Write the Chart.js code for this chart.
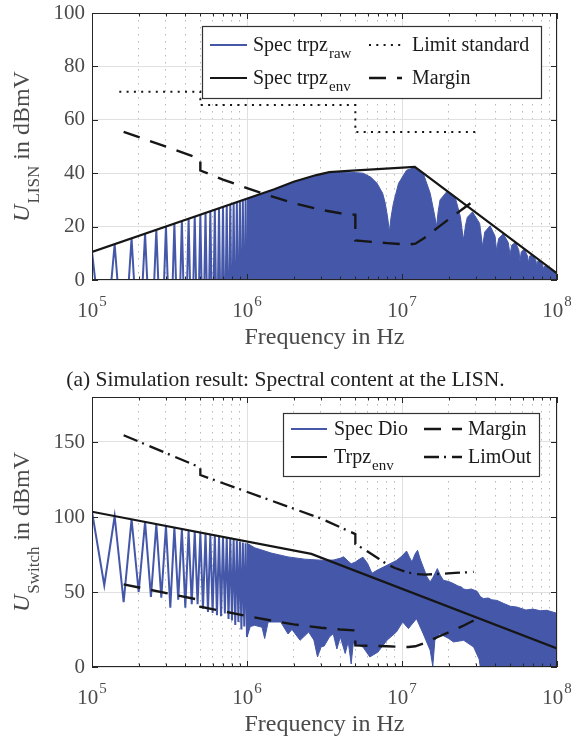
<!DOCTYPE html>
<html>
<head>
<meta charset="utf-8">
<title>Spectral content at the LISN</title>
<script src="https://cdn.jsdelivr.net/npm/chart.js@4.4.1/dist/chart.umd.min.js"></script>
<style>
  body { margin: 0; width: 571px; height: 746px; background: #fff; position: relative; overflow: hidden; }
  canvas { position: absolute; left: 0; }
  #lisn { top: 0; }
  #switch { top: 385px; }
  #caption { position: absolute; left: 0; top: 369px; width: 571px; text-align: center;
             font: 21.5px/21.5px "Liberation Serif", serif; color: #222; }
</style>
</head>
<body>
<canvas id="lisn" width="571" height="365"></canvas>
<canvas id="switch" width="571" height="361"></canvas>
<div id="caption">(a) Simulation result: Spectral content at the LISN.</div>
<script>
// odd harmonics of the 20 kHz switching frequency (spike tops) and the even ones between them
const harmFreq = [1.0e5, 1.4e5, 1.8e5, 2.2e5, 2.6e5, 3.0e5, 3.4e5, 3.8e5, 4.2e5, 4.6e5, 5.0e5, 5.4e5,
                  5.8e5, 6.2e5, 6.6e5, 7.0e5, 7.4e5, 7.8e5, 8.2e5, 8.6e5, 9.0e5, 9.4e5, 9.8e5, 1.02e6];
const evenFreq = [1.2e5, 1.6e5, 2.0e5, 2.4e5, 2.8e5, 3.2e5, 3.6e5, 4.0e5, 4.4e5, 4.8e5, 5.2e5, 5.6e5,
                  6.0e5, 6.4e5, 6.8e5, 7.2e5, 7.6e5, 8.0e5, 8.4e5, 8.8e5, 9.2e5, 9.6e5, 1.0e6];

// (a) LISN
const lisnPeak = [10.5, 13.4, 15.6, 17.3, 18.8, 20.0, 21.1, 22.1, 23.0, 23.8, 24.5, 25.1,
                  25.8, 26.3, 26.9, 27.4, 27.9, 28.3, 28.8, 29.2, 29.6, 30.0, 30.3, 30.7];
const lisnFloor = -30; // even harmonics lie far below the axis
const lisnFillFreq = [1.0e6, 1.5e6, 2.0e6, 2.8e6, 3.4e6, 4.5e6, 5.6e6, 6.3e6, 6.9e6, 7.5e6, 7.8e6, 8.1e6,
                      8.28e6, 8.5e6, 8.8e6, 9.5e6, 1.07e7, 1.21e7, 1.37e7, 1.52e7, 1.63e7, 1.67e7, 1.71e7, 1.76e7,
                      1.94e7, 2.2e7, 2.38e7, 2.49e7, 2.58e7, 2.64e7, 2.85e7, 3.17e7, 3.31e7, 3.42e7, 3.7e7, 3.98e7,
                      4.08e7, 4.2e7, 4.5e7, 4.85e7, 4.98e7, 5.1e7, 5.4e7, 5.68e7, 5.77e7, 5.88e7, 6.15e7, 6.45e7,
                      6.53e7, 6.65e7, 7.0e7, 7.32e7, 7.4e7, 7.5e7, 7.8e7, 8.1e7, 8.16e7, 8.25e7, 8.6e7, 8.95e7,
                      9.0e7, 9.1e7, 1e8];
const lisnFillVal = [30.2, 33.7, 36.5, 39.0, 40.1, 40.4, 40.0, 38.5, 36.2, 32.5, 28.7, 23.0,
                     18.0, 23.5, 28.7, 36.2, 41.1, 42.1, 40.0, 32.5, 23.7, 20.0, 25.5, 30.0,
                     33.0, 31.2, 23.7, 15.0, 21.0, 23.5, 25.5, 21.2, 12.5, 18.0, 20.3, 16.5,
                     11.0, 15.5, 17.3, 14.0, 9.4, 13.0, 14.1, 11.0, 6.9, 10.5, 11.6, 9.0,
                     6.2, 9.0, 9.2, 7.2, 5.0, 7.0, 7.1, 5.5, 3.7, 5.0, 5.2, 4.0,
                     3.1, 4.0, 2.4];
const lisnEnvFreq = [1e5, 1.5e6, 2e6, 2.8e6, 3.4e6, 4.5e6, 1.21e7, 1e8];
const lisnEnvVal = [10.5, 34.0, 36.8, 39.3, 40.4, 40.9, 42.4, 2.5];
const limitFreq = [1.5e5, 5e5, 5e5, 5e6, 5e6, 3e7];
const limitVal = [70.5, 70.5, 65.5, 65.5, 55.4, 55.4];
const marginFreq = [1.6e5, 5e5, 5e5, 7e5, 1e6, 1.5e6, 2e6, 3e6, 4e6, 5e6, 5e6, 8e6,
                    1.1e7, 1.22e7, 1.4e7, 1.7e7, 2.05e7, 2.45e7, 2.9e7];
const lisnMargin = [55.5, 45.4, 41.0, 37.6, 34.4, 31.0, 28.8, 26.3, 25.0, 24.4, 14.8, 13.8,
                    13.3, 13.6, 15.8, 19.6, 23.2, 26.5, 29.6];

// (b) switch
const dioPeak = [103.5, 100.6, 98.4, 96.7, 95.2, 94.0, 92.9, 91.9, 91.0, 90.2, 89.5, 88.9,
                 88.2, 87.7, 87.1, 86.6, 86.1, 85.6, 85.0, 84.3, 83.6, 83.0, 82.5, 82.0];
const dioTrough = [54.5, 43.3, 50.0, 46.7, 46.2, 39.6, 44.9, 39.6, 41.8, 41.8, 38.9, 36.7,
                   36.0, 34.5, 33.8, 35.6, 32.0, 31.0, 28.0, 30.0, 25.0, 27.0, 20.0];
const dioTopFreq = [1.0e6, 1.12e6, 1.43e6, 1.84e6, 2.35e6, 3.0e6, 3.6e6, 4.0e6, 4.2e6, 4.5e6, 4.7e6,
                    5.0e6, 5.3e6, 5.6e6, 6.0e6, 6.4e6, 6.9e6, 8.0e6, 9.2e6, 1.0e7, 1.07e7, 1.12e7,
                    1.16e7, 1.21e7, 1.26e7, 1.31e7, 1.37e7, 1.45e7, 1.52e7, 1.59e7, 1.69e7, 1.77e7,
                    1.85e7, 2.0e7, 2.15e7, 2.3e7, 2.4e7, 2.5e7, 2.62e7, 2.8e7, 3.05e7, 3.2e7, 3.35e7,
                    3.6e7, 3.8e7, 4.1e7, 4.5e7, 5.0e7, 5.5e7, 6.3e7, 7.0e7, 7.8e7, 8.6e7, 1e8];
const dioTopVal = [82.5, 79.5, 76.0, 73.4, 71.9, 71.2, 71.3, 72.5, 73.5, 70.5, 68.8,
                   70.0, 71.8, 73.2, 69.0, 62.5, 64.5, 67.8, 71.0, 74.0, 77.3, 73.0,
                   70.0, 75.0, 77.8, 72.0, 66.7, 60.0, 56.7, 60.0, 65.6, 61.0,
                   57.8, 57.0, 55.6, 54.0, 53.5, 52.0, 51.5, 52.0, 50.5, 47.0, 45.6,
                   46.0, 44.8, 44.4, 42.5, 40.5, 40.0, 38.0, 38.6, 37.5, 37.8, 35.8];
const dioLowFreq = [1.0e6, 1.05e6, 1.12e6, 1.25e6, 1.3e6, 1.37e6, 1.65e6, 1.84e6, 1.95e6, 2.2e6, 2.5e6,
                    2.7e6, 2.85e6, 3.0e6, 3.15e6, 3.4e6, 3.6e6, 3.8e6, 4.0e6, 4.3e6, 4.5e6, 4.7e6,
                    4.85e6, 5.6e6, 6.2e6, 7.0e6, 8.0e6, 9.2e6, 1.01e7, 1.1e7, 1.24e7, 1.37e7,
                    1.52e7, 1.58e7, 1.63e7, 1.75e7, 2.0e7, 2.15e7, 2.5e7, 2.9e7, 3.15e7, 3.2e7, 1e8];
const dioLowVal = [20.0, 27.0, 27.8, 26.5, 19.0, 30.0, 30.0, 22.0, 25.0, 17.8, 23.3,
                   18.0, 6.7, 13.3, 14.0, 20.0, 22.2, 12.0, 20.0, 9.0, 17.0, 2.0,
                   16.0, 13.3, 6.7, 10.0, 17.8, 23.3, 30.0, 25.6, 32.2, 22.2,
                   11.1, 0.5, 17.8, 22.2, 19.0, 16.7, 17.8, 13.3, 5.0, 0.0, 0.0];
const trpzEnvFreq = [1e5, 2.6e6, 1e8];
const trpzEnvVal = [103.5, 75.4, 12.4];
const switchMargin = [55.1, 44.6, 40.2, 37.2, 34.0, 30.6, 28.4, 26.2, 25.0, 24.4, 14.4, 13.8,
                      13.3, 13.8, 16.0, 20.0, 23.6, 27.2, 31.0];
const limOutFreq = [1.6e5, 5e5, 5e5, 3e6, 5e6, 5e6, 6e6, 7e6, 8e6, 9e6, 1.05e7, 1.2e7, 1.4e7, 1.7e7, 2.2e7, 2.9e7];
const limOutVal = [154.5, 133.0, 128.0, 99.0, 88.6, 82.0, 77.0, 72.5, 68.5, 66.0, 63.5, 62.0, 61.6, 62.0, 62.7, 63.4];

const majors = [1e5, 1e6, 1e7, 1e8];
const logTicks = [];
for (let d = 1e5; d < 1e8; d *= 10) for (let m = 1; m < 10; m++) logTicks.push(m * d);
logTicks.push(1e8);
const isMajor = v => majors.includes(v);

const serif = '"Liberation Serif", serif';
const blue = '#4557a8';
const ink = '#161616';
const styles = {
  raw:    { color: blue, width: 2, dash: [] },
  env:    { color: ink, width: 2.2, dash: [] },
  limit:  { color: ink, width: 2, dash: [2, 5.3] },
  margin: { color: ink, width: 2.4, dash: [17, 11] },
  limout: { color: ink, width: 2.3, dash: [15, 5, 2, 6] }
};

Chart.defaults.font.family = 'Liberation Serif';

const pts = (xs, ys) => xs.map((x, i) => ({ x: x, y: ys[i] }));
function spikes(peaks, troughs) {
  const out = [];
  harmFreq.forEach((f, i) => {
    out.push({ x: f, y: peaks[i] });
    if (i < evenFreq.length) out.push({ x: evenFreq[i], y: Array.isArray(troughs) ? troughs[i] : troughs });
  });
  return out;
}
function lineSet(data, s) {
  return { data: data, borderColor: s.color, borderWidth: s.width, borderDash: s.dash, fill: false };
}

function decorations(o) {
  return {
    id: 'deco',
    afterDraw(chart) {
      const { ctx, chartArea: a, scales: { x, y } } = chart;
      ctx.save();
      // box and inward ticks
      ctx.strokeStyle = '#262626';
      ctx.lineWidth = 1;
      ctx.setLineDash([]);
      ctx.strokeRect(a.left + 0.5, a.top + 0.5, a.right - a.left - 1, a.bottom - a.top - 1);
      ctx.beginPath();
      logTicks.forEach(v => {
        const px = Math.round(x.getPixelForValue(v)) + 0.5;
        const len = isMajor(v) ? 6 : 3.5;
        ctx.moveTo(px, a.bottom); ctx.lineTo(px, a.bottom - len);
        ctx.moveTo(px, a.top); ctx.lineTo(px, a.top + len);
      });
      y.ticks.forEach(t => {
        const py = Math.round(y.getPixelForValue(t.value)) + 0.5;
        ctx.moveTo(a.left, py); ctx.lineTo(a.left + 6, py);
        ctx.moveTo(a.right, py); ctx.lineTo(a.right - 6, py);
      });
      ctx.stroke();

      // x tick labels 10^n
      ctx.fillStyle = '#4a4a4a';
      ctx.textAlign = 'left';
      ctx.textBaseline = 'alphabetic';
      majors.forEach(v => {
        const px = x.getPixelForValue(v);
        const exp = String(Math.round(Math.log10(v)));
        ctx.font = '21px ' + serif;
        const w1 = ctx.measureText('10').width;
        ctx.font = '15px ' + serif;
        const w2 = ctx.measureText(exp).width;
        const left = px - (w1 + w2 + 1) / 2;
        ctx.font = '21px ' + serif;
        ctx.fillText('10', left, a.bottom + 37);
        ctx.font = '15px ' + serif;
        ctx.fillText(exp, left + w1 + 1, a.bottom + 26);
      });

      // axis titles
      ctx.font = '24px ' + serif;
      ctx.textAlign = 'center';
      ctx.fillText('Frequency in Hz', (a.left + a.right) / 2, a.bottom + 64);
      ctx.textAlign = 'left';
      ctx.save();
      ctx.translate(29, (a.top + a.bottom) / 2);
      ctx.rotate(-Math.PI / 2);
      ctx.font = 'italic 24px ' + serif;
      const wU = ctx.measureText('U').width;
      ctx.font = '17px ' + serif;
      const wS = ctx.measureText(o.ysub).width;
      ctx.font = '24px ' + serif;
      const wR = ctx.measureText(' in dBmV').width;
      let u = -(wU + wS + wR + 1) / 2;
      ctx.font = 'italic 24px ' + serif;
      ctx.fillText('U', u, 0);
      u += wU + 1;
      ctx.font = '17px ' + serif;
      ctx.fillText(o.ysub, u, 10);
      u += wS;
      ctx.font = '24px ' + serif;
      ctx.fillText(' in dBmV', u, 0);
      ctx.restore();

      // legend
      const L = o.legend;
      ctx.fillStyle = '#fff';
      ctx.fillRect(L.x, L.y, L.w, L.h);
      ctx.strokeStyle = '#333';
      ctx.lineWidth = 1.2;
      ctx.strokeRect(L.x + 0.5, L.y + 0.5, L.w, L.h);
      L.items.forEach(it => {
        const yy = L.rows[it.row];
        const c = L.cols[it.col];
        const s = styles[it.style];
        ctx.strokeStyle = s.color;
        ctx.lineWidth = s.width;
        ctx.setLineDash(s.dash);
        ctx.beginPath();
        ctx.moveTo(c[0], yy); ctx.lineTo(c[1], yy);
        ctx.stroke();
        ctx.setLineDash([]);
        ctx.fillStyle = '#1a1a1a';
        ctx.font = '20px ' + serif;
        ctx.fillText(it.label, c[2], yy + 6);
        if (it.sub) {
          const w = ctx.measureText(it.label).width;
          ctx.font = '15px ' + serif;
          ctx.fillText(it.sub, c[2] + w + 1, yy + 13);
        }
      });
      ctx.restore();
    }
  };
}

function panel(id, cfg) {
  return new Chart(document.getElementById(id), {
    type: 'line',
    data: { datasets: cfg.datasets },
    options: {
      responsive: false,
      animation: false,
      devicePixelRatio: 1,
      layout: { padding: { left: 0, right: 14, top: cfg.top, bottom: 0 } },
      elements: { point: { radius: 0 }, line: { tension: 0 } },
      plugins: { legend: { display: false }, tooltip: { enabled: false } },
      scales: {
        x: {
          type: 'logarithmic', min: 1e5, max: 1e8,
          afterBuildTicks: s => { s.ticks = logTicks.map(v => ({ value: v })); },
          afterFit: s => { s.height = cfg.xHeight; s.paddingLeft = 0; s.paddingRight = 0; },
          ticks: { display: false },
          grid: { drawTicks: false, lineWidth: 1,
                  color: c => (c.tick && isMajor(c.tick.value)) ? '#e0e0e0' : '#b9b9b9' },
          border: { display: false, dash: c => (c.tick && isMajor(c.tick.value)) ? [] : [1.5, 5.5] }
        },
        y: {
          min: 0, max: cfg.ymax,
          ticks: { stepSize: cfg.step, padding: 7, color: '#4a4a4a', font: { size: 21 } },
          afterBuildTicks: s => { s.ticks = s.ticks.filter(t => t.value % cfg.step === 0); },
          // fixed gutter; the top label may overhang the plot box
          afterFit: s => { s.width = 92; s.paddingTop = 0; s.paddingBottom = 0; },
          grid: { drawTicks: false, color: '#e0e0e0', lineWidth: 1 },
          border: { display: false }
        }
      }
    },
    plugins: [decorations(cfg)]
  });
}

panel('lisn', {
  top: 13, xHeight: 85, ymax: 100, step: 20, ysub: 'LISN',
  datasets: [
    lineSet(pts(marginFreq, lisnMargin), styles.margin),
    lineSet(pts(limitFreq, limitVal), styles.limit),
    lineSet(pts(lisnEnvFreq, lisnEnvVal), styles.env),
    Object.assign(lineSet(spikes(lisnPeak, lisnFloor), styles.raw), { clip: 0 }),
    { data: pts(lisnFillFreq, lisnFillVal), borderColor: blue, borderWidth: 1, backgroundColor: blue, fill: 'origin' }
  ],
  legend: {
    x: 202, y: 26, w: 339, h: 72, rows: [45, 78],
    cols: [[210, 247, 253], [369, 402, 412]],
    items: [
      { row: 0, col: 0, style: 'raw', label: 'Spec trpz', sub: 'raw' },
      { row: 0, col: 1, style: 'limit', label: 'Limit standard' },
      { row: 1, col: 0, style: 'env', label: 'Spec trpz', sub: 'env' },
      { row: 1, col: 1, style: 'margin', label: 'Margin' }
    ]
  }
});

panel('switch', {
  top: 12, xHeight: 79, ymax: 180, step: 50, ysub: 'Switch',
  datasets: [
    lineSet(pts(limOutFreq, limOutVal), styles.limout),
    lineSet(pts(marginFreq, switchMargin), styles.margin),
    lineSet(pts(trpzEnvFreq, trpzEnvVal), styles.env),
    Object.assign(lineSet(spikes(dioPeak, dioTrough), styles.raw), { clip: 0 }),
    { data: pts(dioTopFreq, dioTopVal).concat(pts(dioLowFreq, dioLowVal).reverse()),
      borderColor: blue, borderWidth: 1, backgroundColor: blue, fill: 'shape' }
  ],
  legend: {
    x: 283, y: 28, w: 256, h: 63, rows: [44, 72],
    cols: [[291, 327, 334], [424, 462, 468]],
    items: [
      { row: 0, col: 0, style: 'raw', label: 'Spec Dio' },
      { row: 0, col: 1, style: 'margin', label: 'Margin' },
      { row: 1, col: 0, style: 'env', label: 'Trpz', sub: 'env' },
      { row: 1, col: 1, style: 'limout', label: 'LimOut' }
    ]
  }
});
</script>
</body>
</html>
